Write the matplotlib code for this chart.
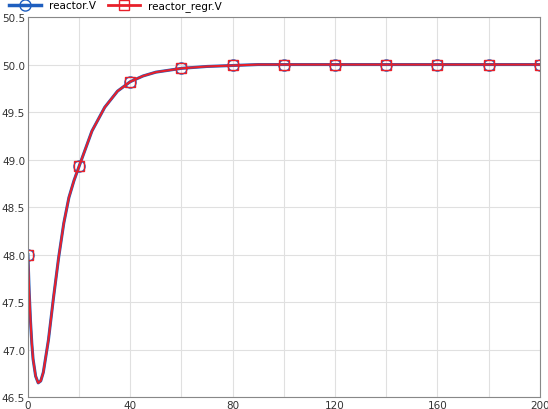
import matplotlib.pyplot as plt

t = [0, 0.5, 1, 1.5, 2, 3, 4, 5, 6, 8, 10, 12, 14, 16, 18, 20, 25, 30, 35, 40, 45, 50, 60, 70, 80, 90, 100, 120, 140, 160, 180, 200]
v = [48.0, 47.6, 47.3, 47.07, 46.9, 46.72, 46.65, 46.67, 46.76, 47.1, 47.55, 47.97, 48.33, 48.6, 48.78, 48.93,
     49.3, 49.55, 49.72, 49.82, 49.88, 49.92, 49.96, 49.98, 49.99, 50.0, 50.0, 50.0, 50.0, 50.0, 50.0, 50.0]
mark_t = [0, 20, 40, 60, 80, 100, 120, 140, 160, 180, 200]
mark_v = [48.0, 48.93, 49.82, 49.96, 49.99, 50.0, 50.0, 50.0, 50.0, 50.0, 50.0]

fig = plt.figure(figsize=(5.48, 4.1), dpi=100)
ax = fig.add_axes([0.051, 0.029, 0.934, 0.927])

ax.plot(t, v, color='#1f5fbf', lw=2.2)
ax.plot(mark_t, mark_v, 'o', ms=8, mfc='none', mec='#1f5fbf', mew=1)
ax.plot(t, v, color='#e8202a', lw=1.5)
ax.plot(mark_t, mark_v, 's', ms=6.5, mfc='none', mec='#e8202a', mew=1)

ax.set_xlim(0, 200)
ax.set_ylim(46.5, 50.5)
ax.set_xticks(range(0, 201, 40))
ax.set_xticks(range(0, 201, 20), minor=True)
ax.set_yticks([46.5 + 0.5 * i for i in range(9)])
ax.set_yticklabels([f'{46.5 + 0.5 * i:.1f}' for i in range(9)])
ax.grid(True, which='both', color='#e0e0e0', lw=0.8)
ax.tick_params(labelsize=7.5, length=0, pad=2, colors='#333333')
ax.tick_params(which='minor', length=0)
for s in ax.spines.values():
    s.set_color('#888888')
    s.set_linewidth(0.8)

blue = plt.Line2D([], [], color='#1f5fbf', lw=2.5, marker='o', ms=8, mfc='none', mec='#1f5fbf')
red = plt.Line2D([], [], color='#e8202a', lw=2, marker='s', ms=7, mfc='none', mec='#e8202a')
fig.legend([blue, red], ['reactor.V', 'reactor_regr.V'], loc='upper left', bbox_to_anchor=(0.0, 1.02),
           ncol=2, frameon=False, fontsize=7.5, handlelength=3, columnspacing=1.2)

fig.savefig('out.png', dpi=100)
